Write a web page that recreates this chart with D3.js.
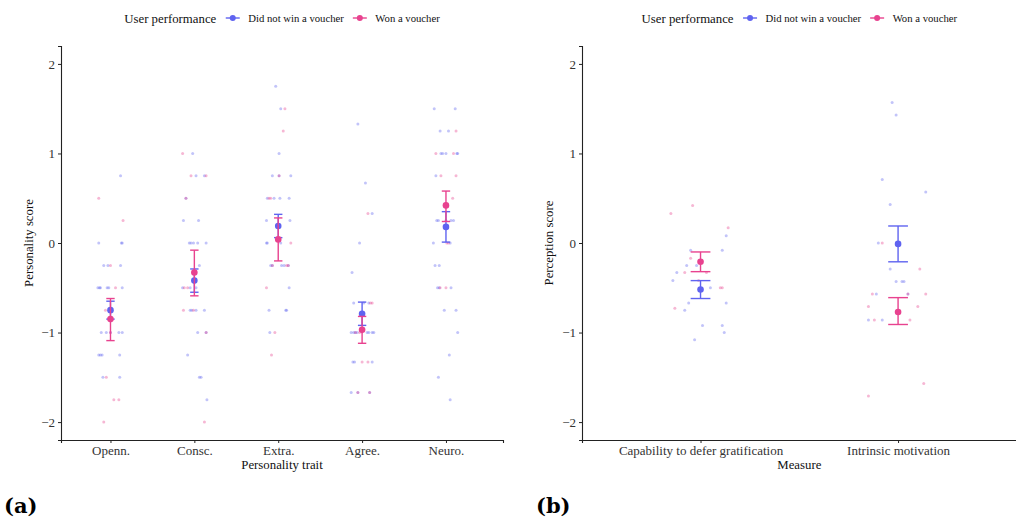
<!DOCTYPE html>
<html>
<head>
<meta charset="utf-8">
<script src="https://cdn.jsdelivr.net/npm/d3@7"></script>
<style>
  body { margin: 0; background: #fff; }
  svg { display: block; }
</style>
</head>
<body>
<svg id="chart" width="1016" height="518"></svg>
<script>
// ---- Categories and labels ----
const traits = ["Openn.", "Consc.", "Extra.", "Agree.", "Neuro."];
const measures = ["Capability to defer gratification", "Intrinsic motivation"];
const groups = ["Did not win a voucher", "Won a voucher"];
const yTicks = [-2, -1, 0, 1, 2];

// ---- Individual scores: per category, [jitter (category units), score] ----
const traitScoresNoWin = [
  [[0.12,0.75],[-0.14,0],[0.14,0],[0.13,0],[-0.08,-0.25],[-0.03,-0.25],[0.12,-0.25],
   [-0.15,-0.5],[-0.12,-0.5],[-0.13,-0.5],[-0.04,-0.5],[-0.02,-0.5],[0.14,-0.5],
   [-0.11,-1],[-0.05,-1],[0,-1],[0.10,-1],[0.14,-1],
   [-0.14,-1.25],[-0.12,-1.25],[-0.10,-1.25],[0.11,-1.25],[-0.09,-1.5],[0.11,-1.5]],
  [[-0.02,1],[0.02,0.75],[0.12,0.75],[-0.10,0.5],[-0.13,0.25],[0.05,0.25],
   [-0.06,0],[-0.04,0],[-0.01,0],[0.04,0],[0.14,0],[0.06,-0.25],
   [-0.14,-0.5],[-0.05,-0.5],[0.02,-0.5],[-0.05,-0.75],[-0.03,-0.75],[0.02,-0.75],[0.12,-0.75],
   [0.04,-1],[0.14,-1],[-0.08,-1.25],[0.06,-1.5],[0.08,-1.5],[0.15,-1.75]],
  [[-0.03,1.75],[0.03,1.5],[0.01,1],[-0.07,0.75],[0.01,0.75],[0.15,0.75],
   [-0.13,0.5],[-0.05,0.5],[0.02,0.5],[0.13,0.5],[-0.14,0.25],[0.14,0.25],
   [-0.14,0],[-0.13,0],[0.03,0],[-0.09,-0.25],[-0.07,-0.25],[0.04,-0.25],[0.07,-0.25],[0.12,-0.25],
   [0.13,-0.5],[-0.11,-0.75],[0.09,-0.75],[0.10,-0.75],[-0.10,-1]],
  [[-0.05,1.33],[0.04,0.67],[0.12,0.33],[-0.03,0],[-0.12,-0.33],
   [-0.10,-0.67],[0.02,-0.67],[0.08,-0.67],
   [-0.13,-1],[-0.10,-1],[-0.08,-1],[-0.06,-1],[0.06,-1],[0.08,-1],[0.12,-1],[0.14,-1],
   [-0.11,-1.33],[-0.09,-1.33],[0.12,-1.33],[-0.13,-1.67],[-0.05,-1.67],[0.09,-1.67]],
  [[-0.14,1.5],[0.11,1.5],[-0.07,1.25],[0.03,1.25],[-0.06,1],[-0.04,1],[0,1],[0.13,1],[0.14,1],
   [-0.12,0.75],[-0.11,0.25],[-0.09,0.25],[0,0.25],[0.06,0.25],[0.09,0.25],
   [-0.15,0],[0.05,0],[-0.13,-0.25],[-0.08,-0.25],[-0.10,-0.5],[-0.08,-0.5],[0.06,-0.5],
   [-0.02,-0.75],[0.12,-0.75],[0.14,-1],[0.04,-1.25],[-0.09,-1.5],[0.05,-1.75]]
];
const traitScoresWon = [
  [[-0.14,0.5],[0.15,0.25],[0,-0.25],[0.06,-0.5],[-0.06,-0.75],[0,-1],[-0.05,-1.5],
   [0.04,-1.75],[0.10,-1.75],[-0.08,-2]],
  [[-0.14,1],[-0.04,0.75],[0.14,0.75],[-0.10,0.5],[-0.12,-0.5],[-0.08,-0.5],
   [-0.13,-0.75],[-0.01,-0.75],[0.14,-1],[0.12,-2]],
  [[0.08,1.5],[0.06,1.25],[0.01,0.75],[-0.11,0.5],[-0.09,0.5],[0.15,0],
   [-0.07,-0.25],[0.10,-0.25],[0.12,-0.25],[-0.14,-0.5],[-0.04,-1],[-0.08,-1.25]],
  [[0.07,0.33],[0.10,-0.67],[0.12,-0.67],[-0.08,-1],[-0.03,-1],[0,-1.33],[0.07,-1.33],
   [-0.05,-1.67],[0.09,-1.67]],
  [[0.12,1.25],[-0.12,1],[0.09,1],[-0.06,0.75],[0.12,0.75],[0.08,0.5],[0.01,0],[0.03,0],
   [-0.07,-0.5],[0,-0.5]]
];
const measureScoresNoWin = [
  [[0.13,0.08],[-0.05,-0.08],[0.11,-0.08],[-0.07,-0.25],[-0.02,-0.25],[-0.12,-0.33],
   [-0.14,-0.42],[0.05,-0.5],[-0.06,-0.67],[0.13,-0.67],[-0.08,-0.75],[0.01,-0.92],
   [0.11,-0.92],[0.12,-1],[-0.03,-1.08]],
  [[-0.03,1.57],[-0.01,1.43],[-0.08,0.71],[0.14,0.57],[-0.04,0.43],[-0.10,0],[-0.04,-0.29],
   [-0.01,-0.43],[0.02,-0.43],[0.03,-0.43],[-0.11,-0.57],[0.05,-0.57],[-0.15,-0.86],[-0.08,-0.86]]
];
const measureScoresWon = [
  [[-0.15,0.33],[-0.04,0.42],[0.14,0.17],[-0.05,-0.17],[-0.08,-0.33],[0.03,-0.33],
   [-0.01,-0.42],[0.10,-0.5],[0.11,-0.5],[-0.13,-0.73]],
  [[-0.08,0],[0.11,-0.29],[-0.13,-0.57],[0.05,-0.57],[0.14,-0.57],[-0.15,-0.71],[0.10,-0.71],
   [-0.12,-0.86],[0.06,-0.86],[0.13,-1.57],[-0.15,-1.71]]
];

// ---- Group means with interval bounds, per category ----
const traitMeanNoWin = [-0.75, -0.42, 0.19, -0.79, 0.18];
const traitLowNoWin  = [-0.85, -0.55, 0.06, -0.92, 0.01];
const traitHighNoWin = [-0.65, -0.29, 0.32, -0.66, 0.35];
const traitMeanWon   = [-0.85, -0.33, 0.04, -0.97, 0.42];
const traitLowWon    = [-1.09, -0.59, -0.20, -1.12, 0.24];
const traitHighWon   = [-0.62, -0.08, 0.28, -0.82, 0.58];

const measureMeanNoWin = [-0.52, -0.01];
const measureLowNoWin  = [-0.62, -0.21];
const measureHighNoWin = [-0.42, 0.19];
const measureMeanWon   = [-0.21, -0.77];
const measureLowWon    = [-0.32, -0.91];
const measureHighWon   = [-0.10, -0.61];

// ---- Styling ----
const colors = ["#5f63f0", "#e8428f"];
const serif = "'Liberation Serif', 'Times New Roman', serif";
const svg = d3.select("#chart");

function drawPanel(cfg) {
  const g = svg.append("g");
  const x = d3.scaleLinear().domain(cfg.xDomain).range(cfg.xRange);
  const y = d3.scaleLinear().domain([-2.2, 2.2]).range([440, 46]);

  // axes
  const yAxis = g.append("g")
    .attr("transform", `translate(${cfg.xRange[0]},0)`)
    .call(d3.axisLeft(y).tickValues(yTicks).tickSize(3).tickPadding(3)
      .tickFormat(d => d < 0 ? "\u2212" + Math.abs(d) : String(d)));
  const xAxis = g.append("g")
    .attr("transform", "translate(0,440)")
    .call(d3.axisBottom(x).tickValues(d3.range(cfg.categories.length)).tickSize(3).tickPadding(2.5)
      .tickFormat(i => cfg.categories[i]));
  [yAxis, xAxis].forEach(a => {
    a.select(".domain").attr("stroke", "#222").attr("stroke-width", 1.1);
    a.selectAll(".tick line").attr("stroke", "#222").attr("stroke-width", 1);
    a.selectAll(".tick text").attr("fill", "#333").style("font-family", serif).style("font-size", "13px");
  });

  // axis titles
  g.append("text")
    .attr("x", (cfg.xRange[0] + cfg.xRange[1]) / 2).attr("y", 469)
    .attr("text-anchor", "middle").style("font-family", serif).style("font-size", "12.8px")
    .attr("fill", "#111").text(cfg.xTitle);
  g.append("text")
    .attr("transform", `translate(${cfg.yTitleX},${y(0)}) rotate(-90)`)
    .attr("text-anchor", "middle").style("font-family", serif).style("font-size", "12.8px")
    .attr("fill", "#111").text(cfg.yTitle);

  // individual scores
  cfg.scores.forEach((series, gi) => {
    const pts = [];
    series.forEach((cat, ci) => cat.forEach(([j, v]) => pts.push({ c: ci + j, v })));
    g.append("g").selectAll("circle").data(pts).join("circle")
      .attr("cx", d => x(d.c)).attr("cy", d => y(d.v)).attr("r", 1.5)
      .attr("fill", colors[gi]).attr("fill-opacity", 0.38);
  });

  // means with interval bars
  cfg.summary.forEach((s, gi) => {
    const rows = s.mean.map((m, i) => ({ i, m, lo: s.low[i], hi: s.high[i] }));
    const eg = g.append("g").attr("stroke", colors[gi]).attr("stroke-width", 1.4);
    eg.selectAll("line.v").data(rows).join("line").attr("class", "v")
      .attr("x1", d => x(d.i)).attr("x2", d => x(d.i))
      .attr("y1", d => y(d.lo)).attr("y2", d => y(d.hi));
    ["lo", "hi"].forEach(k => {
      eg.selectAll("line." + k).data(rows).join("line").attr("class", k)
        .attr("x1", d => x(d.i - 0.05)).attr("x2", d => x(d.i + 0.05))
        .attr("y1", d => y(d[k])).attr("y2", d => y(d[k]));
    });
    g.append("g").selectAll("circle").data(rows).join("circle")
      .attr("cx", d => x(d.i)).attr("cy", d => y(d.m)).attr("r", 3.3)
      .attr("fill", colors[gi]);
  });

  // legend, centred over the panel
  const lg = g.append("g");
  const ly = 18;
  let cx = 0;
  const title = lg.append("text").attr("x", cx).attr("y", ly + 4.5)
    .style("font-family", serif).style("font-size", "12.8px").attr("fill", "#111")
    .text("User performance");
  cx += title.node().getComputedTextLength() + 9.5;
  groups.forEach((name, gi) => {
    lg.append("line").attr("x1", cx).attr("x2", cx + 14).attr("y1", ly).attr("y2", ly)
      .attr("stroke", colors[gi]).attr("stroke-width", 1.4);
    lg.append("circle").attr("cx", cx + 7).attr("cy", ly).attr("r", 3).attr("fill", colors[gi]);
    cx += 14 + 8.5;
    const t = lg.append("text").attr("x", cx).attr("y", ly + 3.5)
      .style("font-family", serif).style("font-size", "10.7px").attr("fill", "#111").text(name);
    cx += t.node().getComputedTextLength() + 9;
  });
  const lw = cx - 9;
  lg.attr("transform", `translate(${(cfg.xRange[0] + cfg.xRange[1]) / 2 - lw / 2},0)`);

  // panel tag
  g.append("text").attr("x", cfg.tagX).attr("y", 513)
    .style("font-family", "'DejaVu Serif', serif").style("font-weight", "bold")
    .style("font-size", "21px").attr("fill", "#000").text(cfg.tag);
}

drawPanel({
  categories: traits, xDomain: [-0.59, 4.68], xRange: [61, 503],
  xTitle: "Personality trait", yTitle: "Personality score", yTitleX: 33,
  scores: [traitScoresNoWin, traitScoresWon],
  summary: [
    { mean: traitMeanNoWin, low: traitLowNoWin, high: traitHighNoWin },
    { mean: traitMeanWon, low: traitLowWon, high: traitHighWon }
  ],
  tag: "(a)", tagX: 4
});
drawPanel({
  categories: measures, xDomain: [-0.6, 1.6], xRange: [582, 1016.6],
  xTitle: "Measure", yTitle: "Perception score", yTitleX: 553,
  scores: [measureScoresNoWin, measureScoresWon],
  summary: [
    { mean: measureMeanNoWin, low: measureLowNoWin, high: measureHighNoWin },
    { mean: measureMeanWon, low: measureLowWon, high: measureHighWon }
  ],
  tag: "(b)", tagX: 536
});
</script>
</body>
</html>
